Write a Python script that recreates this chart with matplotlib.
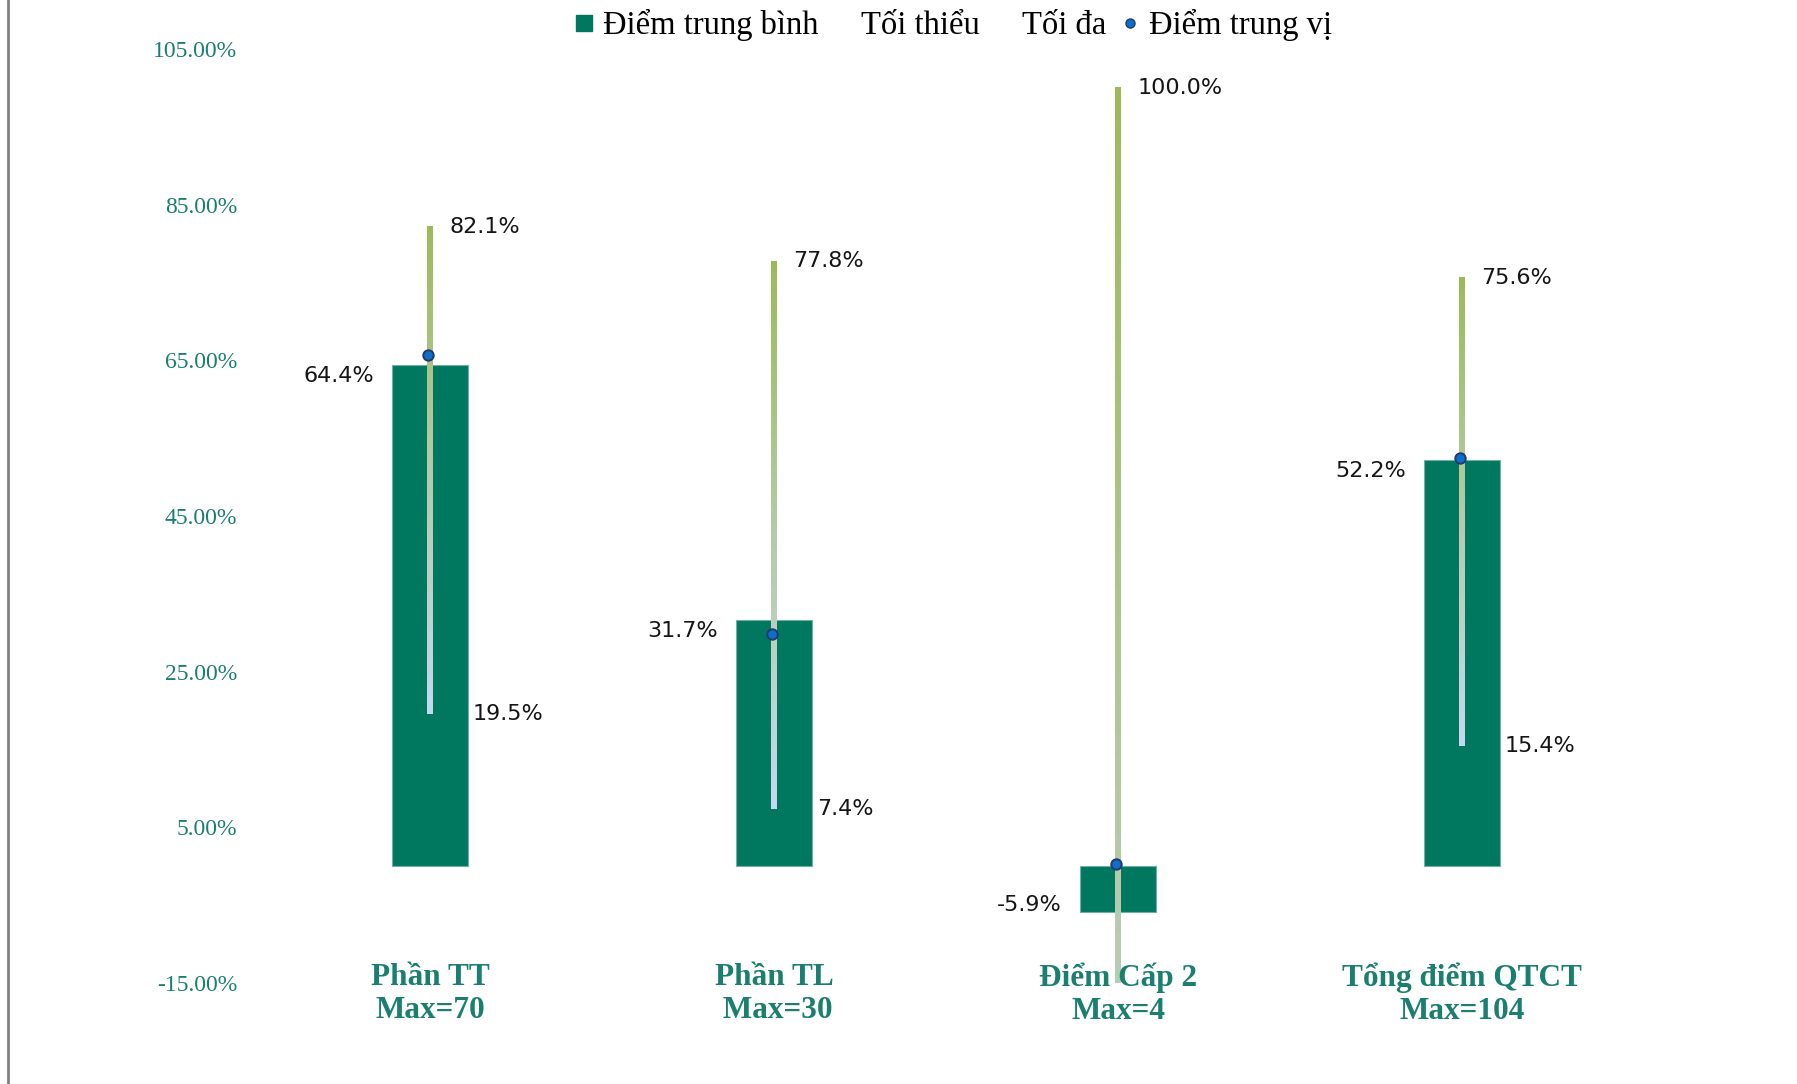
import numpy as np
import matplotlib
matplotlib.use("Agg")
import matplotlib.pyplot as plt
from matplotlib.colors import LinearSegmentedColormap
from matplotlib.lines import Line2D

# ---- data ----
categories = ["Phần TT\nMax=70", "Phần TL\n Max=30", "Điểm Cấp 2\nMax=4", "Tổng điểm QTCT\nMax=104"]
means = [64.4, 31.7, -5.9, 52.2]
mins = [19.5, 7.4, -100.0, 15.4]
maxs = [82.1, 77.8, 100.0, 75.6]
medians = [65.7, 29.8, 0.3, 52.4]
yticks = [-15, 5, 25, 45, 65, 85, 105]
legend_labels = ["Điểm trung bình", "Tối thiểu", "Tối đa", "Điểm trung vị"]

BAR = "#00775F"
TEAL = "#1A7F6E"

fig = plt.figure(figsize=(17.97, 10.84), dpi=100)
ax = fig.add_axes([258 / 1797, 1 - 983 / 1084, 1376 / 1797, (983 - 49) / 1084])

x = np.arange(len(categories))
ax.bar(x, means, width=0.22, color=BAR, edgecolor="#6FB0A0", linewidth=0.8, zorder=2)

cmap = LinearSegmentedColormap.from_list(
    "wh", [(0, "#9BBB59"), (0.45, "#B3C9A2"), (1.0, "#C6D8F0")])
grad = np.linspace(0, 1, 256).reshape(-1, 1)
half_w = 0.0075
for xi, lo, hi in zip(x, mins, maxs):
    ax.imshow(grad, cmap=cmap, aspect="auto", origin="upper",
              extent=[xi - half_w, xi + half_w, lo, hi], zorder=3,
              interpolation="bilinear")

ax.plot(x - 0.006, medians, linestyle="none", marker="o", markersize=7.5,
        markerfacecolor="#0F6FC6", markeredgecolor="#1F3A70", markeredgewidth=1.4, zorder=4)

lab_kw = dict(fontsize=16, family="DejaVu Sans", color="#151515")
for xi, m, lo, hi in zip(x, means, mins, maxs):
    ax.annotate(f"{hi:.1f}%", xy=(xi, hi), xytext=(14, 0), textcoords="offset points",
                ha="left", va="center", **lab_kw)
    ax.annotate(f"{lo:.1f}%", xy=(xi, lo), xytext=(31, 0), textcoords="offset points",
                ha="left", va="center", **lab_kw)
    off = -8 if m >= 0 else 5
    ax.annotate(f"{m:.1f}%", xy=(xi - 0.11, m), xytext=(-13, off), textcoords="offset points",
                ha="right", va="center", **lab_kw)

for xi, c in zip(x, categories):
    ax.annotate(c, xy=(xi, 0), xycoords=("data", "axes fraction"), xytext=(0, -8),
                textcoords="offset points", ha="center", va="center",
                fontsize=22.5, fontweight="bold", family="Liberation Serif",
                color=TEAL, linespacing=1.17, annotation_clip=False)

ax.set_xlim(-0.5, 3.5)
ax.set_ylim(-15, 105)
ax.set_yticks(yticks)
ax.set_yticklabels([f"{t:.2f}%" for t in yticks], family="Liberation Serif",
                   fontsize=17, color=TEAL)
ax.tick_params(axis="y", length=0, pad=15)
ax.set_xticks([])
for s in ax.spines.values():
    s.set_visible(False)

handles = [
    Line2D([], [], linestyle="none", marker="s", markersize=11, markerfacecolor=BAR, markeredgecolor=BAR),
    Line2D([], [], linestyle="none"),
    Line2D([], [], linestyle="none"),
    Line2D([], [], linestyle="none", marker="o", markersize=6.5, markerfacecolor="#0F6FC6",
           markeredgecolor="#1F3A70"),
]
fig.legend(handles, legend_labels, loc="center", bbox_to_anchor=(953 / 1797, 1 - 25 / 1084),
           ncol=4, frameon=False, handlelength=0.6, handletextpad=0.3, columnspacing=0.4,
           prop={"family": "Liberation Serif", "size": 23.5})

fig.add_artist(Line2D([8 / 1797, 8 / 1797], [0, 1], transform=fig.transFigure,
                      color="#808080", linewidth=2))

fig.savefig("out.png", dpi=100, facecolor="white")
